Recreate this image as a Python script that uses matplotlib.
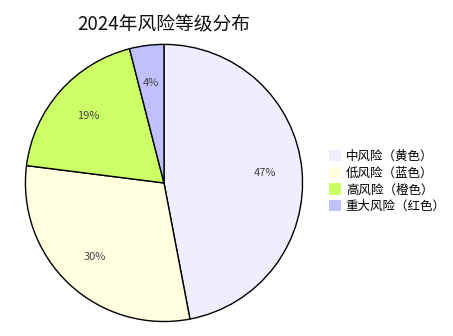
import matplotlib
matplotlib.use("Agg")
import matplotlib.pyplot as plt
from matplotlib.patches import Patch

plt.rcParams['font.family'] = ['Noto Sans CJK SC', 'DejaVu Sans']

labels = ['中风险（黄色）', '低风险（蓝色）', '高风险（橙色）', '重大风险（红色）']
values = [47, 30, 19, 4]
colors = ['#eeeeff', '#ffffe0', '#ccff66', '#c0c0ff']
title = '2024年风险等级分布'

fig = plt.figure(figsize=(4.53, 3.36), dpi=100)
ax = fig.add_axes([0.053, 0.039, 0.618, 0.833])
wedges, texts, autotexts = ax.pie(values, colors=colors, startangle=90, counterclock=False,
                                  autopct='%d%%', pctdistance=0.73,
                                  wedgeprops=dict(edgecolor='black', linewidth=1),
                                  textprops=dict(fontsize=8, color='#444444'))
ax.set_xlim(-1.01, 1.01)
ax.set_ylim(-1.01, 1.01)
ax.set_aspect('equal')
fig.text(0.362, 0.925, title, ha='center', va='center', fontsize=13.5, color='#111111')
handles = [Patch(facecolor=c, edgecolor='none') for c in colors]
fig.legend(handles, labels, loc='center left', bbox_to_anchor=(0.715, 0.46), frameon=False,
           fontsize=9, handlelength=1.0, handleheight=1.0, handletextpad=0.35,
           labelspacing=0.3, borderaxespad=0)
fig.savefig('out.png', dpi=100)
